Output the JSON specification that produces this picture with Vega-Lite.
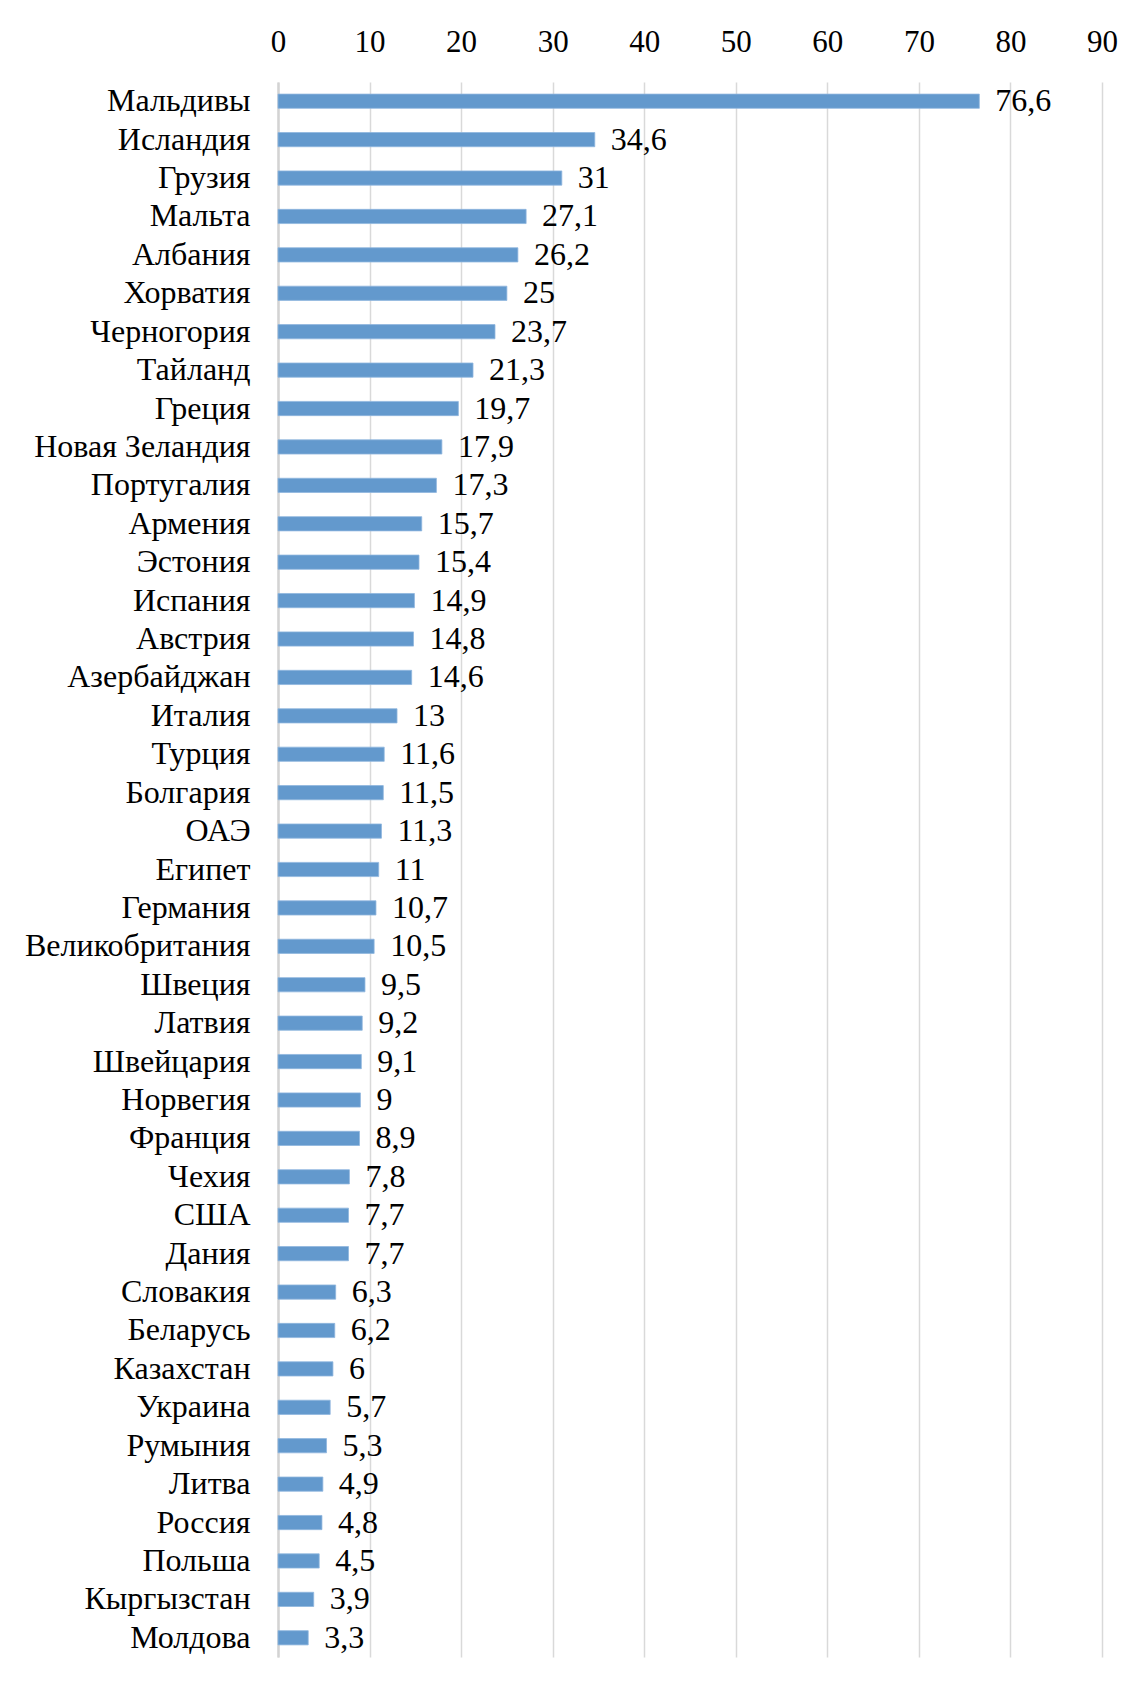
{
  "$schema": "https://vega.github.io/schema/vega-lite/v6.json",
  "autosize": "none",
  "padding": {"left": 278, "top": 82, "right": 34, "bottom": 27},
  "width": 824,
  "height": 1575,
  "background": "white",
  "config": {
    "locale": {"number": {"decimal": ",", "thousands": " ", "grouping": [3], "currency": ["", ""]}},
    "view": {"stroke": null},
    "font": "Liberation Serif"
  },
  "data": {"values": [
    {"country": "Мальдивы", "value": 76.6},
    {"country": "Исландия", "value": 34.6},
    {"country": "Грузия", "value": 31},
    {"country": "Мальта", "value": 27.1},
    {"country": "Албания", "value": 26.2},
    {"country": "Хорватия", "value": 25},
    {"country": "Черногория", "value": 23.7},
    {"country": "Тайланд", "value": 21.3},
    {"country": "Греция", "value": 19.7},
    {"country": "Новая Зеландия", "value": 17.9},
    {"country": "Португалия", "value": 17.3},
    {"country": "Армения", "value": 15.7},
    {"country": "Эстония", "value": 15.4},
    {"country": "Испания", "value": 14.9},
    {"country": "Австрия", "value": 14.8},
    {"country": "Азербайджан", "value": 14.6},
    {"country": "Италия", "value": 13},
    {"country": "Турция", "value": 11.6},
    {"country": "Болгария", "value": 11.5},
    {"country": "ОАЭ", "value": 11.3},
    {"country": "Египет", "value": 11},
    {"country": "Германия", "value": 10.7},
    {"country": "Великобритания", "value": 10.5},
    {"country": "Швеция", "value": 9.5},
    {"country": "Латвия", "value": 9.2},
    {"country": "Швейцария", "value": 9.1},
    {"country": "Норвегия", "value": 9},
    {"country": "Франция", "value": 8.9},
    {"country": "Чехия", "value": 7.8},
    {"country": "США", "value": 7.7},
    {"country": "Дания", "value": 7.7},
    {"country": "Словакия", "value": 6.3},
    {"country": "Беларусь", "value": 6.2},
    {"country": "Казахстан", "value": 6},
    {"country": "Украина", "value": 5.7},
    {"country": "Румыния", "value": 5.3},
    {"country": "Литва", "value": 4.9},
    {"country": "Россия", "value": 4.8},
    {"country": "Польша", "value": 4.5},
    {"country": "Кыргызстан", "value": 3.9},
    {"country": "Молдова", "value": 3.3}
  ]},
  "encoding": {
    "y": {
      "field": "country", "type": "nominal", "sort": null,
      "scale": {"paddingInner": 0.63, "paddingOuter": 0.315},
      "axis": {
        "title": null, "ticks": false, "tickSize": 0, "labelPadding": 28, "labelLimit": 0,
        "labelFontSize": 32, "labelColor": "#000000", "labelFont": "Liberation Serif",
        "domainColor": "#d3d3d3", "domainWidth": 2.5, "grid": false
      }
    },
    "x": {
      "field": "value", "type": "quantitative",
      "scale": {"domain": [0, 90], "nice": false},
      "axis": {
        "orient": "top", "title": null, "values": [0,10,20,30,40,50,60,70,80,90],
        "ticks": false, "tickSize": 0, "labelPadding": 24, "domain": false, "labelFlush": false,
        "labelFontSize": 31, "labelColor": "#000000", "labelFont": "Liberation Serif",
        "format": "d", "gridColor": "#d9d9d9", "gridWidth": 1.5
      }
    }
  },
  "layer": [
    {"mark": {"type": "bar", "color": "#6399CD", "stroke": "#8fb6de", "strokeWidth": 0.8}},
    {
      "mark": {"type": "text", "align": "left", "baseline": "middle", "dx": 16, "fontSize": 32, "font": "Liberation Serif", "color": "#000000"},
      "encoding": {"text": {"field": "value", "type": "quantitative", "format": ".1~f"}}
    }
  ]
}
